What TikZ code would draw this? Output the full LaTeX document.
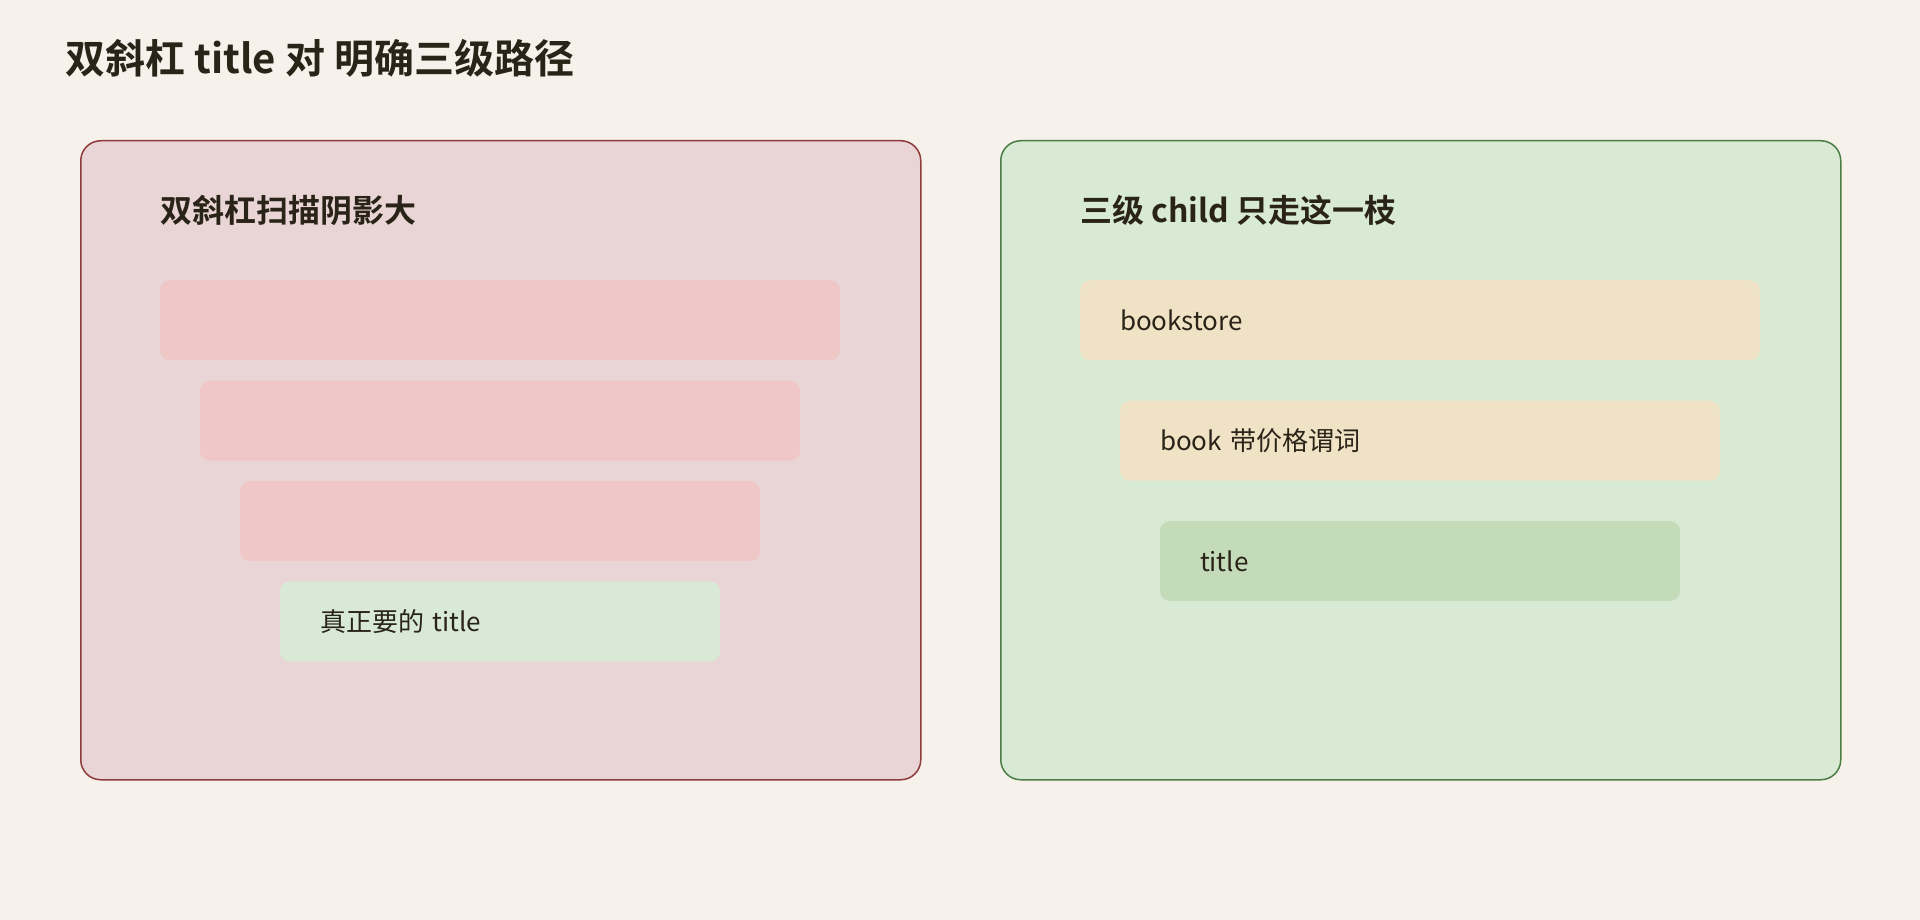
\documentclass[tikz,border=0pt]{standalone}
\usepackage{fontspec}
\setmainfont{Noto Sans CJK SC}[BoldFont={Noto Sans CJK SC Bold}]
\usepackage{xcolor}
\usetikzlibrary{positioning}
\definecolor{paper}{HTML}{F6F1EA}
\definecolor{ink}{HTML}{2A2418}
\definecolor{badline}{HTML}{8E3B3B}
\definecolor{badfill}{HTML}{E9D5D5}
\definecolor{badbar}{HTML}{F0C7C7}
\definecolor{hitbar}{HTML}{D8EAD5}
\definecolor{goodline}{HTML}{4B7D44}
\definecolor{goodfill}{HTML}{D8EAD4}
\definecolor{stepbar}{HTML}{EFE2C5}
\definecolor{leafbar}{HTML}{C4DBB9}
\tikzset{
  panel/.style={draw,line width=1.5pt,rounded corners=20pt,minimum width=840pt,minimum height=639pt,anchor=north west},
  bar/.style={rounded corners=10pt,minimum height=80pt,inner xsep=40pt,inner ysep=0pt,text width=#1,align=left,text=ink,font=\fontsize{26}{30}\selectfont},
  head/.style={anchor=west,inner sep=0pt,text=ink,font=\bfseries\fontsize{32}{38}\selectfont}
}
\begin{document}
\begin{tikzpicture}[x=1pt,y=-1pt]
%%First the page
\fill[paper] (0,0) rectangle (1920,920);
\useasboundingbox (0,0) rectangle (1920,920);
\node[anchor=west,inner sep=0pt,text=ink,font=\bfseries\fontsize{40}{48}\selectfont] (title) at (65,58) {双斜杠 title 对 明确三级路径};
%%Then the two panels
\node[panel,draw=badline,fill=badfill] (bad) at (80,140) {};
\node[panel,draw=goodline,fill=goodfill] (good) at (1000,140) {};
\node[head] (badhead) at (160,210) {双斜杠扫描阴影大};
\node[head] (goodhead) at (1080,210) {三级 child 只走这一枝};
%%Place the bars of the left panel
\node[bar=600,fill=badbar,anchor=north] (b1) at (500,280) {};
\node[bar=520,fill=badbar] (b2) [below=20pt of b1] {};
\node[bar=440,fill=badbar] (b3) [below=20pt of b2] {};
\node[bar=360,fill=hitbar] (b4) [below=20pt of b3] {真正要的 title};
%%Place the bars of the right panel
\node[bar=600,fill=stepbar,anchor=north] (g1) at (1420,280) {bookstore};
\node[bar=520,fill=stepbar] (g2) [below=40pt of g1] {book 带价格谓词};
\node[bar=440,fill=leafbar] (g3) [below=40pt of g2] {title};
\end{tikzpicture}
\end{document}
